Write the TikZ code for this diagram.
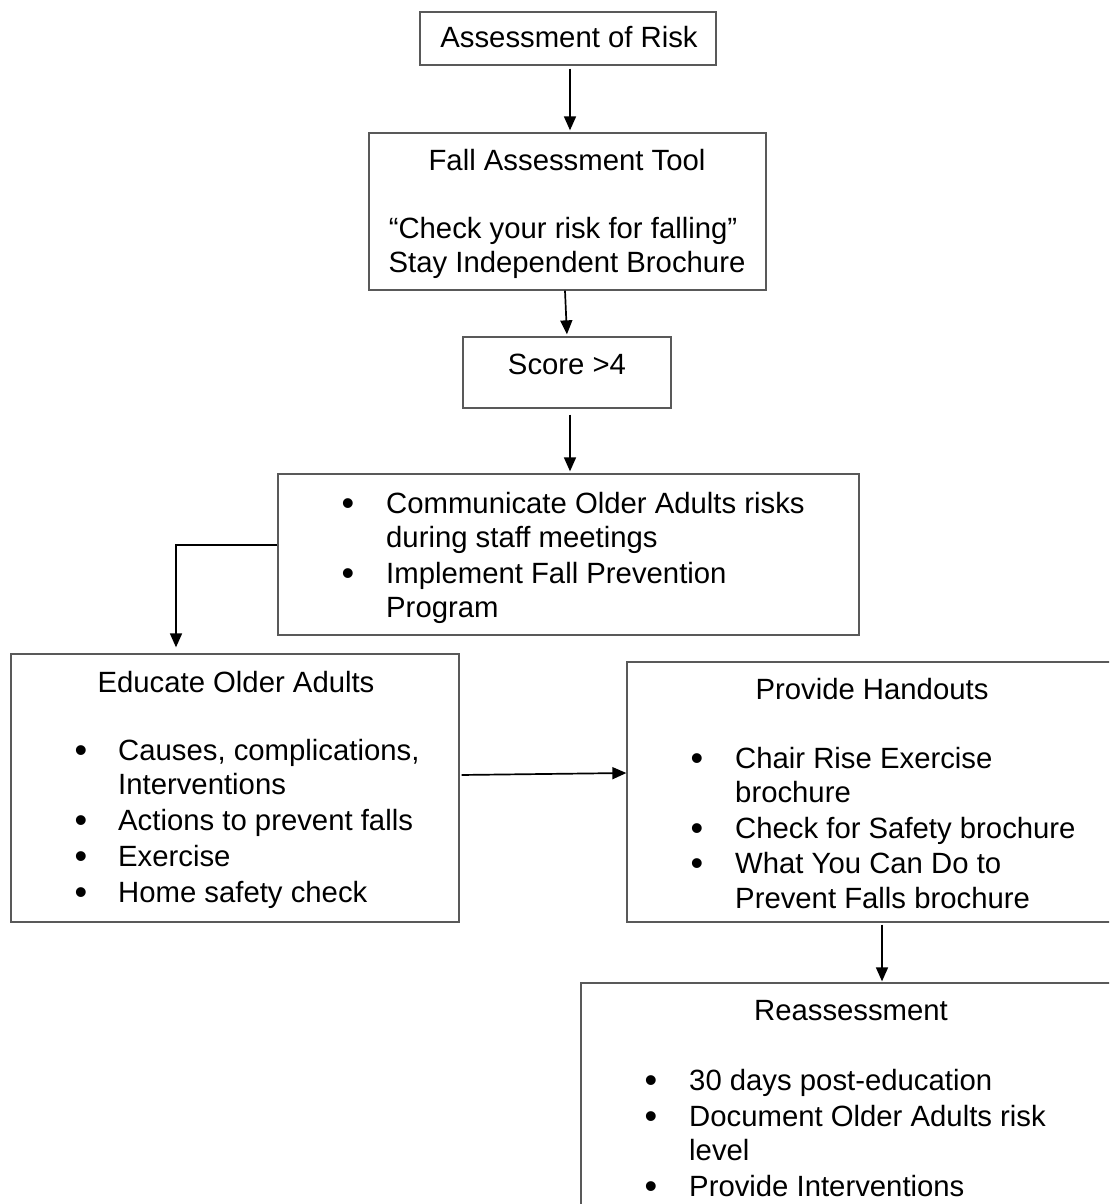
\documentclass[tikz,border=0pt]{standalone}
\usepackage{fontspec}
\setmainfont{Liberation Sans}
\usetikzlibrary{arrows.meta,calc}
\begin{document}
\begin{tikzpicture}[x=1pt,y=-1pt,
  box/.style={draw=black!65,line width=1.3pt,rectangle,inner sep=0pt},
  arr/.style={draw=black,line width=1.7pt,-{Triangle[length=14pt,width=12pt]}},
  txt/.style={inner sep=0pt,font=\fontsize{29.3}{34.5}\selectfont},
  tl/.style={txt,anchor=base west},
  tc/.style={txt,anchor=base},
  bul/.style={inner sep=0pt,anchor=base,yshift=-2pt,font=\fontsize{36}{36}\selectfont}]
\useasboundingbox (0,0) rectangle (1109,1204);
\clip (0,0) rectangle (1109,1204);
% boxes
\node[box,minimum width=296,minimum height=53] (risk) at (568,38.5) {};
\node[box,minimum width=397,minimum height=157] (tool) at (567.5,211.5) {};
\node[box,minimum width=208,minimum height=71] (score) at (567,372.5) {};
\node[box,minimum width=581,minimum height=161] (comm) at (568.5,554.5) {};
\node[box,minimum width=448,minimum height=268] (educ) at (235,788) {};
\node[box,minimum width=493,minimum height=260] (hand) at (873.5,792) {};
\node[box,minimum width=539,minimum height=240] (reass) at (850.5,1103) {};
% texts
\node[tc] (t1) at (569,48) {Assessment of Risk};
\node[tc] (t2) at (567,170) {Fall Assessment Tool};
\node[tc] (t3) at (563,238) {“Check your risk for falling”};
\node[tc] (t4) at (567,272) {Stay Independent Brochure};
\node[tc] (t5) at (567,374) {Score >4};
\node[bul] (cb1) at (348,513) {•};
\node[tl] (c1) at (386,513) {Communicate Older Adults risks};
\node[tl] (c2) at (386,547) {during staff meetings};
\node[bul] (cb2) at (348,583) {•};
\node[tl] (c3) at (386,583) {Implement Fall Prevention};
\node[tl] (c4) at (386,617) {Program};
\node[tc] (e0) at (236,692) {Educate Older Adults};
\node[bul] (eb1) at (81,760) {•};
\node[tl] (e1) at (118,760) {Causes, complications,};
\node[tl] (e2) at (118,794) {Interventions};
\node[bul] (eb2) at (81,830) {•};
\node[tl] (e3) at (118,830) {Actions to prevent falls};
\node[bul] (eb3) at (81,866) {•};
\node[tl] (e4) at (118,866) {Exercise};
\node[bul] (eb4) at (81,902) {•};
\node[tl] (e5) at (118,902) {Home safety check};
\node[tc] (h0) at (872,699) {Provide Handouts};
\node[bul] (hb1) at (697,768) {•};
\node[tl] (h1) at (735,768) {Chair Rise Exercise};
\node[tl] (h2) at (735,802) {brochure};
\node[bul] (hb2) at (697,838) {•};
\node[tl] (h3) at (735,838) {Check for Safety brochure};
\node[bul] (hb3) at (697,873) {•};
\node[tl] (h4) at (735,873) {What You Can Do to};
\node[tl] (h5) at (735,908) {Prevent Falls brochure};
\node[tc] (r0) at (851,1020) {Reassessment};
\node[bul] (rb1) at (651,1090) {•};
\node[tl] (r1) at (689,1090) {30 days post-education};
\node[bul] (rb2) at (651,1126) {•};
\node[tl] (r2) at (689,1126) {Document Older Adults risk};
\node[tl] (r3) at (689,1160) {level};
\node[bul] (rb3) at (651,1196) {•};
\node[tl] (r4) at (689,1196) {Provide Interventions};
% connectors
\draw[arr,shorten <=3pt,shorten >=2pt] ([xshift=2]risk.south) -- ([xshift=2.5]tool.north);
\draw[arr,shorten >=2pt] ([xshift=-2.5]tool.south) -- (score.north);
\draw[arr,shorten <=6pt,shorten >=2pt] ([xshift=3]score.south) -- ([xshift=1.5]comm.north);
\coordinate (ed) at ([xshift=-59]educ.north);
\draw[arr,shorten >=6pt] ([yshift=9.5]comm.west) -| (ed);
\draw[arr,shorten <=2pt] ([yshift=13]educ.east) -- ([yshift=19]hand.west);
\coordinate (hs) at ([xshift=8.5]hand.south);
\draw[arr,shorten <=2pt,shorten >=1pt] (hs) -- (hs |- reass.north);
\end{tikzpicture}
\end{document}
